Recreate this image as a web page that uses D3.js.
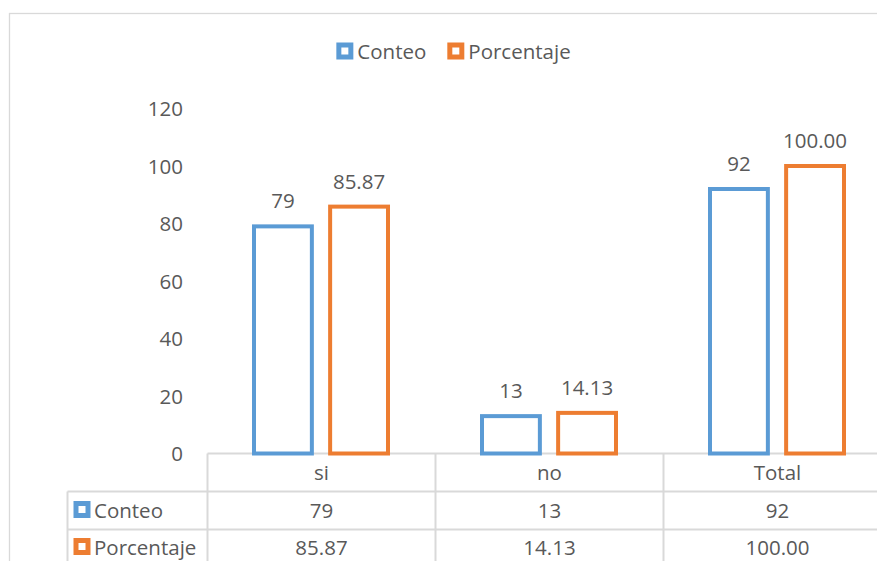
<!DOCTYPE html>
<html>
<head>
<meta charset="utf-8">
<script src="https://cdn.jsdelivr.net/npm/d3@7"></script>
<style>
  html, body { margin: 0; padding: 0; background: #fff; }
  svg text { font-family: "Open Sans", "DejaVu Sans", sans-serif; font-size: 20.5px; fill: #595959; }
</style>
</head>
<body>
<svg id="chart" width="877" height="561"></svg>
<script>
// Categories and series
const categories = ["si", "no", "Total"];
const seriesNames = ["Conteo", "Porcentaje"];
const conteo = [79, 13, 92];
const porcentaje = [85.87, 14.13, 100.00];
const yTicks = [0, 20, 40, 60, 80, 100, 120];
const colors = ["#5B9BD5", "#ED7D31"];

const seriesValues = [conteo, porcentaje];
const seriesLabels = [
  conteo.map(v => d3.format("d")(v)),
  porcentaje.map(v => d3.format(".2f")(v))
];

const svg = d3.select("#chart");
const gridColor = "#D9D9D9";

// Outer chart frame (extends past the right and bottom edges)
svg.append("rect")
  .attr("x", 9.5).attr("y", 13.5)
  .attr("width", 900).attr("height", 600)
  .attr("fill", "#fff")
  .attr("stroke", gridColor).attr("stroke-width", 1.3);

// Scales
const x0 = d3.scaleBand().domain(categories).range([207.5, 891.5]).padding(0);
const x1 = d3.scaleBand().domain(seriesNames).range([46.5, 180.5]).paddingInner(0.24).paddingOuter(0);
const y = d3.scaleLinear().domain([0, 120]).range([453.5, 108.5]);

// Y tick labels
svg.append("g").selectAll("text")
  .data(yTicks).join("text")
  .attr("x", 183)
  .attr("y", d => y(d) + 7.5)
  .attr("text-anchor", "end")
  .text(d => d);

// Data table lines
const tableTop = y(0);
const row1 = 491.5, row2 = 529.5, tableLeft = 67.5;
const lines = svg.append("g").attr("stroke", gridColor).attr("stroke-width", 2).attr("fill", "none");
lines.append("line").attr("x1", x0.range()[0]).attr("x2", 900).attr("y1", tableTop).attr("y2", tableTop);
[row1, row2].forEach(r => lines.append("line").attr("x1", tableLeft).attr("x2", 900).attr("y1", r).attr("y2", r));
lines.append("line").attr("x1", tableLeft).attr("x2", tableLeft).attr("y1", row1).attr("y2", 570);
categories.concat(["_end"]).forEach((c, i) => {
  const xx = x0.range()[0] + i * x0.step();
  lines.append("line").attr("x1", xx).attr("x2", xx).attr("y1", tableTop).attr("y2", 570);
});

// Bars (outlined) and value labels
seriesNames.forEach((s, si) => {
  const g = svg.append("g");
  g.selectAll("rect")
    .data(categories).join("rect")
    .attr("x", c => x0(c) + x1(s))
    .attr("y", (c, i) => y(seriesValues[si][i]))
    .attr("width", x1.bandwidth())
    .attr("height", (c, i) => y(0) - y(seriesValues[si][i]))
    .attr("fill", "#fff")
    .attr("stroke", colors[si])
    .attr("stroke-width", 4);
  g.selectAll("text")
    .data(categories).join("text")
    .attr("x", c => x0(c) + x1(s) + x1.bandwidth() / 2)
    .attr("y", (c, i) => y(seriesValues[si][i]) - 18)
    .attr("text-anchor", "middle")
    .text((c, i) => seriesLabels[si][i]);
});

// Category labels in the table header row
svg.append("g").selectAll("text")
  .data(categories).join("text")
  .attr("x", c => x0(c) + x0.bandwidth() / 2)
  .attr("y", 479.5)
  .attr("text-anchor", "middle")
  .text(c => c);

// Table rows: legend key + values
const rowBaselines = [517.5, 554.5];
seriesNames.forEach((s, si) => {
  const g = svg.append("g");
  g.append("rect")
    .attr("x", 76).attr("y", rowBaselines[si] - 14)
    .attr("width", 12).attr("height", 12)
    .attr("fill", "#fff").attr("stroke", colors[si]).attr("stroke-width", 5);
  g.append("text").attr("x", 94).attr("y", rowBaselines[si]).text(s);
  g.selectAll("text.val")
    .data(categories).join("text")
    .attr("class", "val")
    .attr("x", c => x0(c) + x0.bandwidth() / 2)
    .attr("y", rowBaselines[si])
    .attr("text-anchor", "middle")
    .text((c, i) => seriesLabels[si][i]);
});

// Legend at top, centered
const legend = svg.append("g");
let lx = 0;
const items = [];
seriesNames.forEach((s, si) => {
  const it = legend.append("g").attr("transform", `translate(${lx},0)`);
  it.append("rect")
    .attr("x", 2.5).attr("y", -13.5)
    .attr("width", 12).attr("height", 12)
    .attr("fill", "#fff").attr("stroke", colors[si]).attr("stroke-width", 5);
  const t = it.append("text").attr("x", 21).attr("y", 0).text(s);
  lx += 21 + t.node().getComputedTextLength() + 21;
});
const legendWidth = lx - 21;
legend.attr("transform", `translate(${453.5 - legendWidth / 2},58.5)`);
</script>
</body>
</html>
